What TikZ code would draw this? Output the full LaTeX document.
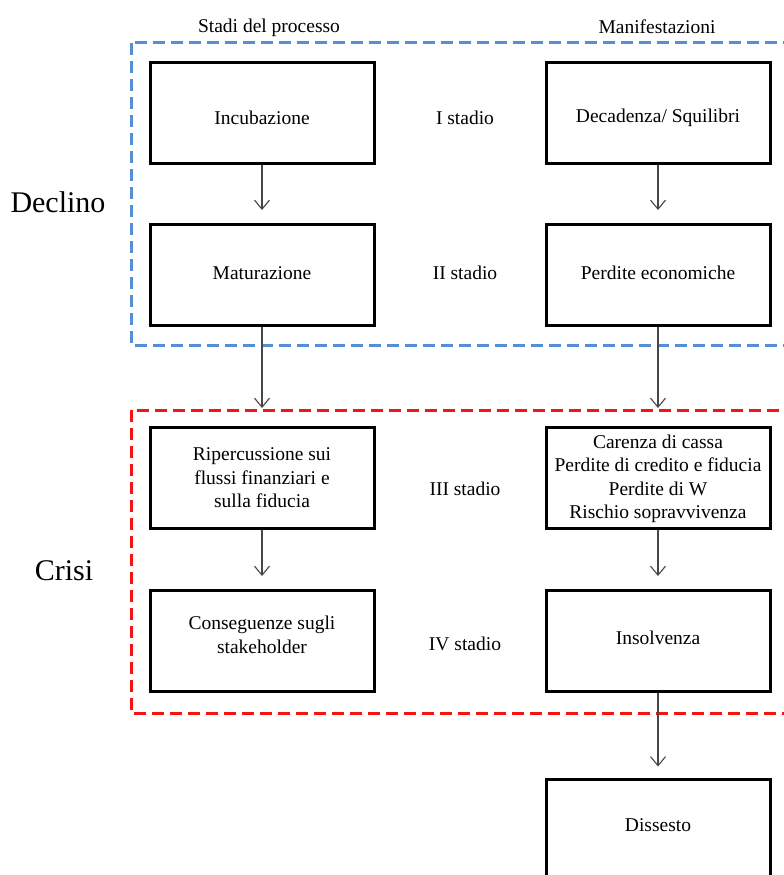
\documentclass[tikz,border=0pt]{standalone}
\usepackage{fontspec}
\setmainfont{Liberation Serif}
\usetikzlibrary{arrows.meta}
\definecolor{dashblue}{RGB}{85,142,213}
\definecolor{dashred}{RGB}{245,20,20}
\definecolor{arrgray}{RGB}{70,70,70}
\tikzset{
  box/.style={draw=black, line width=3pt, minimum width=224pt, minimum height=101pt, inner sep=0pt},
  txt/.style={inner sep=0pt, align=center, font=\fontsize{19.5}{23.5}\selectfont},
  big/.style={inner sep=0pt, font=\fontsize{30}{34}\selectfont},
  flow/.style={draw=arrgray, line width=1.1pt, -{Straight Barb[length=9pt,width=15pt,line width=1.1pt]}, shorten >=13pt},
  group/.style={line width=3pt, dash pattern=on 12pt off 6pt},
}
\begin{document}
\begin{tikzpicture}[x=1pt,y=-1pt]
\clip (0,0) rectangle (784,875);
\fill[white] (0,0) rectangle (784,875);
% group frames
\draw[group, draw=dashblue] (131,43) rectangle (800,345);
\draw[group, draw=dashred] (131,410) rectangle (800,713);
% headers
\node[txt] (h1) at (269,28) {Stadi del processo};
\node[txt] (h2) at (657,27) {Manifestazioni};
\node[big] (declino) at (58,202) {Declino};
\node[big] (crisi) at (64,571) {Crisi};
% left column
\node[box] (incub) at (262,113) {};
\node[txt] (incubtxt) at (262,118) {Incubazione};
\node[box] (matur) at (262,275) {};
\node[txt] (maturtxt) at (262,273) {Maturazione};
\node[box] (riper) at (262,478) {};
\node[txt] (ripertxt) at (262,478) {Ripercussione sui\\flussi finanziari e\\sulla fiducia};
\node[box] (conseg) at (262,641) {};
\node[txt] (consegtxt) at (262,635) {Conseguenze sugli\\stakeholder};
% right column
\node[box] (decad) at (658,113) {};
\node[txt] (decadtxt) at (658,118) {Decadenza/ Squilibri};
\node[box] (perd) at (658,275) {};
\node[txt] (perdtxt) at (658,273) {Perdite economiche};
\node[box] (caren) at (658,478) {};
\node[txt] (carentxt) at (658,479) {Carenza di cassa\\Perdite di credito e fiducia\\Perdite di W\\Rischio sopravvivenza};
\node[box] (insolv) at (658,641) {};
\node[txt] (insolvtxt) at (658,638) {Insolvenza};
\node[box, minimum height=140pt] (disses) at (658,849) {};
\node[txt] (dissestxt) at (658,825) {Dissesto};
% stage labels
\node[txt] (s1) at (465,118) {I stadio};
\node[txt] (s2) at (465,273) {II stadio};
\node[txt] (s3) at (465,489) {III stadio};
\node[txt] (s4) at (465,644) {IV stadio};
% connectors
\draw[flow] (incub) -- (matur);
\draw[flow, shorten >=18pt] (matur) -- (riper);
\draw[flow] (riper) -- (conseg);
\draw[flow] (decad) -- (perd);
\draw[flow, shorten >=18pt] (perd) -- (caren);
\draw[flow] (caren) -- (insolv);
\draw[flow, shorten >=11pt] (insolv) -- (disses);
\end{tikzpicture}
\end{document}
